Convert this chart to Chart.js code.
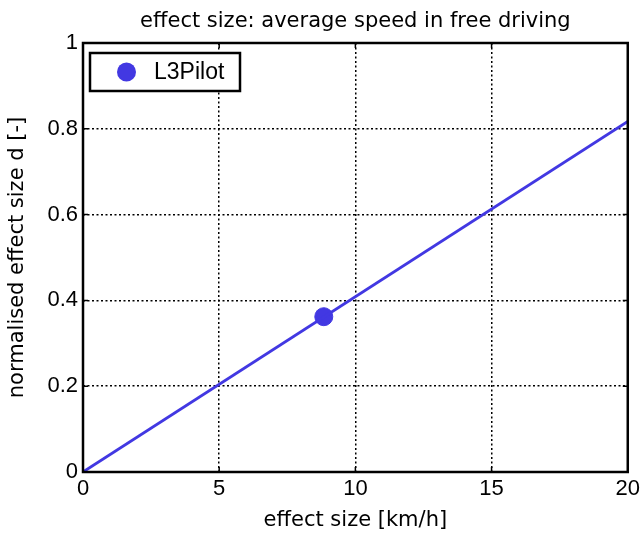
<!DOCTYPE html>
<html>
<head>
<meta charset="utf-8">
<script src="https://cdn.jsdelivr.net/npm/chart.js@4/dist/chart.umd.min.js"></script>
<style>
  html, body { margin: 0; padding: 0; background: #fff; }
  #wrap { width: 644px; height: 533px; }
</style>
</head>
<body>
<div id="wrap"><canvas id="chart" width="644" height="533"></canvas></div>
<script>
// data
const lineX = [0, 20];
const lineY = [0, 0.817];
const pointX = [8.84];
const pointY = [0.362];
const seriesName = 'L3Pilot';
const xTicks = [0, 5, 10, 15, 20];
const yTicks = [0, 0.2, 0.4, 0.6, 0.8, 1];

const blue = 'rgb(66, 56, 226)';
const font = 'Liberation Sans, Arial, sans-serif';
const labelFont = 'DejaVu Sans, sans-serif';

// black frame round the plot area, with short inward ticks
const framePlugin = {
    id: 'frame',
    afterDatasetsDraw(chart) {
        const a = chart.chartArea;
        const sx = chart.scales.x, sy = chart.scales.y;
        const ctx = chart.ctx;
        ctx.save();
        ctx.strokeStyle = '#000';
        ctx.lineWidth = 1.5;
        ctx.beginPath();
        xTicks.forEach(v => {
            const px = sx.getPixelForValue(v);
            ctx.moveTo(px, a.bottom); ctx.lineTo(px, a.bottom - 5);
            ctx.moveTo(px, a.top); ctx.lineTo(px, a.top + 5);
        });
        yTicks.forEach(v => {
            const py = sy.getPixelForValue(v);
            ctx.moveTo(a.left, py); ctx.lineTo(a.left + 5, py);
            ctx.moveTo(a.right, py); ctx.lineTo(a.right - 5, py);
        });
        ctx.stroke();
        ctx.lineWidth = 2.5;
        ctx.strokeRect(a.left, a.top, a.right - a.left, a.bottom - a.top);
        ctx.restore();
    }
};

// legend box inside the top-left corner
const legendBox = {
    id: 'legendBox',
    afterDraw(chart) {
        const a = chart.chartArea;
        const ctx = chart.ctx;
        const x = a.left + 7, y = a.top + 10, w = 150, h = 38;
        ctx.save();
        ctx.fillStyle = '#fff';
        ctx.fillRect(x, y, w, h);
        ctx.strokeStyle = '#000';
        ctx.lineWidth = 2.5;
        ctx.strokeRect(x, y, w, h);
        ctx.fillStyle = blue;
        ctx.beginPath();
        ctx.arc(x + 36.5, y + 19, 9.5, 0, Math.PI * 2);
        ctx.fill();
        ctx.fillStyle = '#000';
        ctx.font = '23px ' + font;
        ctx.textBaseline = 'middle';
        ctx.fillText(chart.data.datasets[1].label, x + 64, y + 20);
        ctx.restore();
    }
};

const ctx = document.getElementById('chart').getContext('2d');
new Chart(ctx, {
    type: 'scatter',
    data: {
        datasets: [
            {
                label: 'line',
                data: lineX.map((x, i) => ({ x: x, y: lineY[i] })),
                showLine: true,
                borderColor: blue,
                borderWidth: 2.8,
                pointRadius: 0
            },
            {
                label: seriesName,
                data: pointX.map((x, i) => ({ x: x, y: pointY[i] })),
                backgroundColor: blue,
                borderColor: blue,
                pointRadius: 9
            }
        ]
    },
    options: {
        responsive: false,
        animation: false,
        layout: { padding: { right: 15, left: 0, top: 0, bottom: 0 } },
        plugins: {
            legend: { display: false },
            tooltip: { enabled: false },
            title: {
                display: true,
                fullSize: false,
                text: 'effect size: average speed in free driving',
                color: '#000',
                font: { family: labelFont, size: 21, weight: 'normal' },
                padding: { top: 9, bottom: 8.8 }
            }
        },
        scales: {
            x: {
                type: 'linear',
                min: 0,
                max: 20,
                afterBuildTicks: (axis) => { axis.ticks = xTicks.map(v => ({ value: v })); },
                ticks: { color: '#000', font: { family: font, size: 22 }, padding: 4 },
                grid: { color: '#000', lineWidth: 1.5, drawTicks: false },
                border: { display: false, dash: [2, 2.5] },
                afterFit: (axis) => { axis.height = 61; },
                title: {
                    display: true,
                    text: 'effect size [km/h]',
                    color: '#000',
                    font: { family: labelFont, size: 21 },
                    padding: { top: 0, bottom: 0 }
                }
            },
            y: {
                type: 'linear',
                min: 0,
                max: 1,
                afterBuildTicks: (axis) => { axis.ticks = yTicks.map(v => ({ value: v })); },
                ticks: { color: '#000', font: { family: font, size: 22 }, padding: 5,
                         callback: (v) => String(Math.round(v * 10) / 10) },
                grid: { color: '#000', lineWidth: 1.5, drawTicks: false },
                border: { display: false, dash: [2, 2.5] },
                afterFit: (axis) => { axis.width = 83; },
                title: {
                    display: true,
                    text: 'normalised effect size d [-]',
                    color: '#000',
                    font: { family: labelFont, size: 21 },
                    padding: { top: 5, bottom: 0 }
                }
            }
        }
    },
    plugins: [framePlugin, legendBox]
});
</script>
</body>
</html>
